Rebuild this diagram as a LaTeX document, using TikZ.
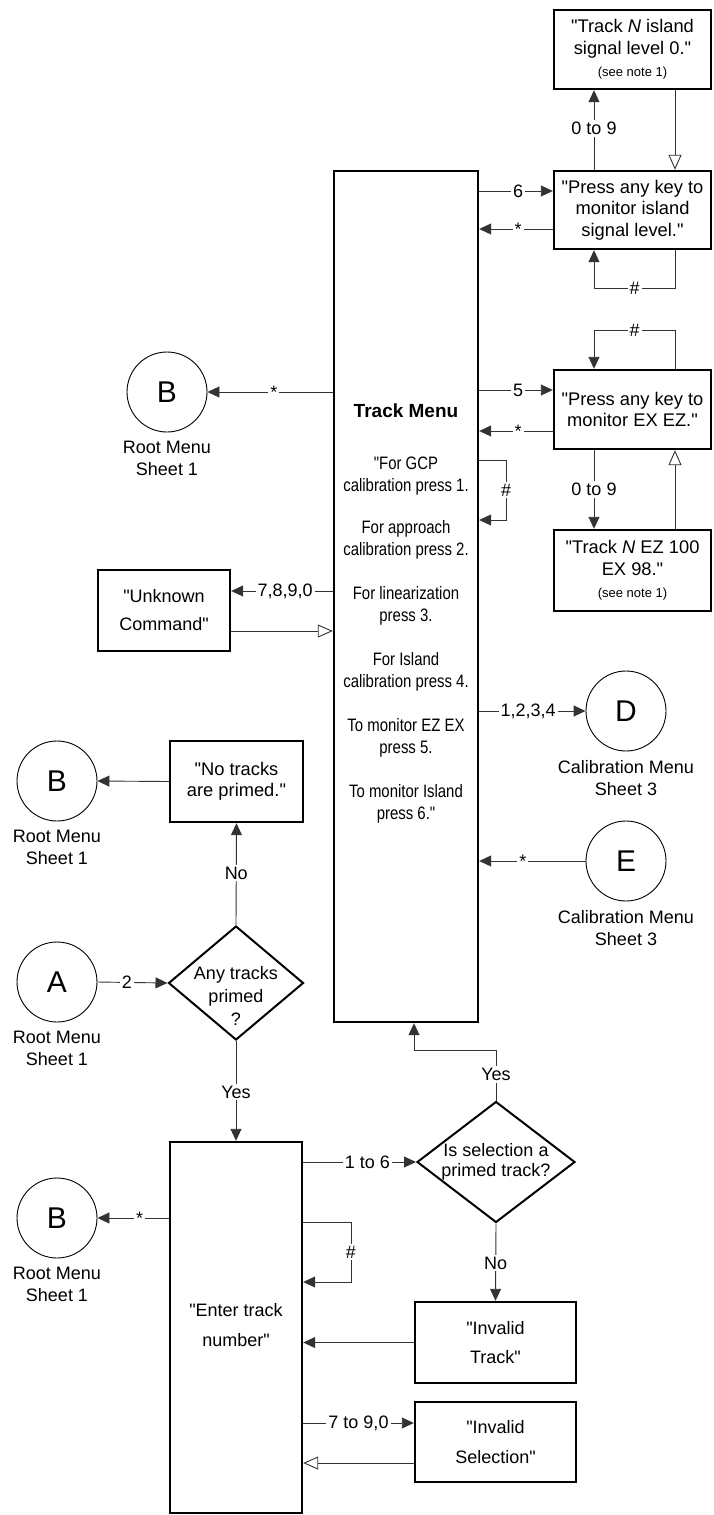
\documentclass[tikz,border=0pt]{standalone}
\usepackage{fontspec}
\setmainfont{Liberation Sans}[Ligatures=TeXOff]
\newfontfamily\narrowfont{Liberation Sans}[FakeStretch=0.83,Ligatures=TeXOff]
\usetikzlibrary{arrows.meta,shapes.geometric}
\tikzset{
 ln/.style={line width=0.9pt, draw=black!80},
 arr/.style={ln, -{Triangle[length=12pt,width=11pt]}},
 oarr/.style={ln, -{Triangle[open,length=15pt,width=13pt,fill=white]}},
 box/.style={draw, line width=2.4pt, inner sep=0pt, align=center, font=\fontsize{18.3}{21.5}\selectfont},
 circ/.style={draw, line width=0.9pt, circle, minimum size=80pt, inner sep=0pt, font=\fontsize{30}{30}\selectfont},
 dia/.style={draw, line width=2pt, diamond, inner sep=0pt},
 lbl/.style={fill=white, inner sep=2pt, font=\fontsize{18}{18}\selectfont},
 sub/.style={align=center, font=\fontsize{18}{22}\selectfont, yshift=-5pt},
 note/.style={font=\fontsize{13}{13}\selectfont}
}
\begin{document}
\begin{tikzpicture}[x=1pt,y=-1pt]
\fill[white] (0,0) rectangle (714,1515);
\useasboundingbox (0,0) rectangle (714,1515);

% main boxes
\node[box, minimum width=144pt, minimum height=851pt] (tm) at (406,596.5) {};
\node[align=center, font=\narrowfont\fontsize{18}{21.5}\selectfont] (tmtext) at (406,613) {%
{\normalfont\bfseries\fontsize{19}{21.5}\selectfont Track Menu}\\[31pt]
"For GCP\\calibration press 1.\\[21pt]
For approach\\calibration press 2.\\[23pt]
For linearization\\press 3.\\[23pt]
For Island\\calibration press 4.\\[23pt]
To monitor EZ EX\\press 5.\\[23pt]
To monitor Island\\press 6."};

\node[box, minimum width=157pt, minimum height=79pt] (tni) at (632.5,49.5)
  {"Track \textit{N} island\\signal level 0."\\[1pt]{\fontsize{13}{13}\selectfont (see note 1)}};
\node[box, minimum width=157pt, minimum height=78pt] (pil) at (632.5,210)
  {"Press any key to\\monitor island\\signal level."};
\node[box, minimum width=157pt, minimum height=79pt] (pex) at (632.5,409.5)
  {"Press any key to\\monitor EX EZ."};
\node[box, minimum width=157pt, minimum height=81pt] (tnez) at (632.5,570.5)
  {"Track \textit{N} EZ 100\\EX 98."\\[1pt]{\fontsize{13}{13}\selectfont (see note 1)}};

\node[box, minimum width=132pt, minimum height=81pt, font=\fontsize{18}{28}\selectfont] (unk) at (164,610.5)
  {"Unknown\\Command"};
\node[box, minimum width=133pt, minimum height=81pt] (notr) at (236.5,781.5)
  {"No tracks\\are primed."};
\node[box, minimum width=132pt, minimum height=371pt, font=\fontsize{18}{30}\selectfont] (enter) at (236,1327.5)
  {"Enter track\\number"\\[-24pt]\mbox{}};
\node[box, minimum width=161pt, minimum height=81pt, font=\fontsize{18}{29}\selectfont] (invt) at (495.5,1342.5)
  {"Invalid\\Track"};
\node[box, minimum width=161pt, minimum height=80pt, font=\fontsize{18}{30}\selectfont] (invs) at (495.5,1442)
  {"Invalid\\Selection"};

% circles
\node[circ, label={[sub]below:{Root Menu\\Sheet 1}}] (b1) at (167,392) {B};
\node[circ, label={[sub]below:{Calibration Menu\\Sheet 3}}] (d) at (626,711) {D};
\node[circ, label={[sub]below:{Calibration Menu\\Sheet 3}}] (e) at (626,861) {E};
\node[circ, label={[sub]below:{Root Menu\\Sheet 1}}] (b2) at (57,781) {B};
\node[circ, label={[sub]below:{Root Menu\\Sheet 1}}] (a) at (57,982) {A};
\node[circ, label={[sub]below:{Root Menu\\Sheet 1}}] (b3) at (57,1218) {B};

% diamonds
\node[dia, minimum width=135pt, minimum height=114pt,
  label={[align=center, font=\fontsize{18}{23}\selectfont, yshift=-13pt]center:{Any tracks\\primed\\?}}] (dia1) at (236,983) {};
\node[dia, minimum width=158pt, minimum height=121pt,
  label={[align=center, font=\fontsize{18}{20}\selectfont]center:{Is selection a\\primed track?}}] (dia2) at (496,1162) {};

% connectors: island monitor
\draw[arr] (tm.east |- 0,191) -- node[lbl, pos=0.53]{6} (pil.west |- 0,191);
\draw[arr] (pil.west |- 0,229) -- node[lbl, pos=0.47]{*} (tm.east |- 0,229);
\draw[arr] (594,0 |- pil.north) -- node[lbl, pos=0.52]{0 to 9} (594,0 |- tni.south);
\draw[oarr] (675,0 |- tni.south) -- (675,0 |- pil.north);
\draw[arr] (675,0 |- pil.south) -- (675,288) -- node[lbl]{\#} (594,288) -- (594,0 |- pil.south);

% connectors: EX EZ monitor
\draw[arr] (675,0 |- pex.north) -- (675,330) -- node[lbl]{\#} (594,330) -- (594,0 |- pex.north);
\draw[arr] (tm.east |- 0,390) -- node[lbl, pos=0.53]{5} (pex.west |- 0,390);
\draw[arr] (pex.west |- 0,431) -- node[lbl, pos=0.47]{*} (tm.east |- 0,431);
\draw[arr] (594,0 |- pex.south) -- node[lbl, pos=0.5]{0 to 9} (594,0 |- tnez.north);
\draw[oarr] (675,0 |- tnez.north) -- (675,0 |- pex.south);

% track menu others
\draw[arr] (tm.east |- 0,460) -- (506,460) -- node[lbl]{\#} (506,520) -- (tm.east |- 0,520);
\draw[arr] (tm.west |- b1.east) -- node[lbl, pos=0.47]{*} (b1.east);
\draw[arr] (tm.west |- 0,591) -- node[lbl, pos=0.47]{7,8,9,0} (unk.east |- 0,591);
\draw[oarr] (unk.east |- 0,631) -- (tm.west |- 0,631);
\draw[arr] (tm.east |- d.west) -- node[lbl, pos=0.46]{1,2,3,4} (d.west);
\draw[arr] (e.west) -- node[lbl, pos=0.59]{*} (tm.east |- e.west);

% left flow
\draw[arr] (notr.west) -- (b2.east);
\draw[arr] (dia1.north) -- node[lbl, pos=0.51]{No} (notr.south);
\draw[arr] (a.east) -- node[lbl, pos=0.42]{2} (dia1.west);
\draw[arr] (dia1.south) -- node[lbl, pos=0.51]{Yes} (enter.north);

% enter track number
\draw[arr] (dia2.north) -- node[lbl, pos=0.52]{Yes} (dia2.north |- 0,1050) -- (414,1050) -- (414,0 |- tm.south);
\draw[arr] (enter.east |- dia2.west) -- node[lbl, pos=0.57]{1 to 6} (dia2.west);
\draw[arr] (enter.east |- 0,1222) -- (351,1222) -- node[lbl]{\#} (351,1282) -- (enter.east |- 0,1282);
\draw[arr] (enter.west |- b3.east) -- node[lbl, pos=0.41]{*} (b3.east);
\draw[arr] (dia2.south) -- node[lbl, pos=0.51]{No} (invt.north);
\draw[arr] (invt.west) -- (enter.east |- invt.west);
\draw[arr] (enter.east |- 0,1423) -- node[lbl, pos=0.5]{7 to 9,0} (invs.west |- 0,1423);
\draw[oarr] (invs.west |- 0,1463) -- (enter.east |- 0,1463);
\end{tikzpicture}
\end{document}
